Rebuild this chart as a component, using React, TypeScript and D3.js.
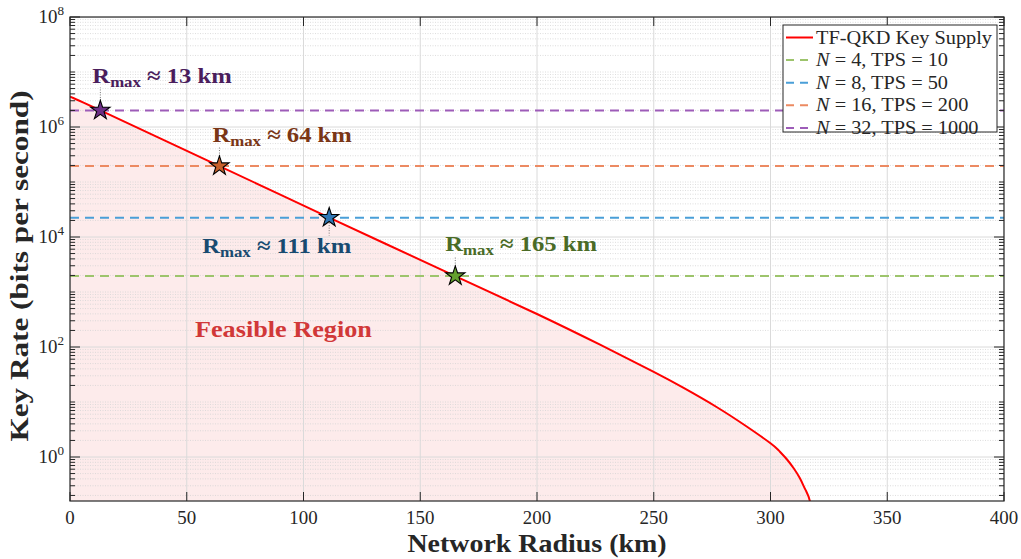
import * as d3 from 'd3';
import { useEffect, useRef } from 'react';

// TF-QKD key supply curve (km, bits per second)
const supplyKm = [0, 13, 64, 111, 165, 200, 227, 250, 262.6, 276.9, 289.8, 300, 303.5, 306.9, 310, 312.6, 315, 316.9, 318];
const supplyRate = [3.55e6, 2.0e6, 1.95e5, 2.25e4, 1.95e3, 398, 110, 35.2, 18.2, 8.11, 3.58, 1.78, 1.32, 0.92, 0.617, 0.41, 0.252, 0.156, 0.063];

// demand levels
const demandLabels = ['N = 4, TPS = 10', 'N = 8, TPS = 50', 'N = 16, TPS = 200', 'N = 32, TPS = 1000'];
const demandN = ['4', '8', '16', '32'];
const demandTps = ['10', '50', '200', '1000'];
const demandRate = [1.95e3, 2.25e4, 1.95e5, 2.0e6];
const demandColors = ['#9dc46c', '#4a9fd8', '#ec8a62', '#9d5cb8'];

// crossing points
const rmaxKm = [165, 111, 64, 13];
const rmaxLabels = ['165', '111', '64', '13'];
const starFill = ['#64a02e', '#2f77b5', '#c8602b', '#6d2f86'];
const textFill = ['#4a6b26', '#184a70', '#7a3616', '#4a1d5c'];

const xTicks = [0, 50, 100, 150, 200, 250, 300, 350, 400];
const yTickExp = [0, 2, 4, 6, 8];

const W = 1021;
const H = 559;
const left = 70;
const right = 1004;
const top = 17;
const bottom = 501;
const FONT = '"Liberation Serif", "DejaVu Serif", serif';
const INK = '#262626';

// text stretched sideways a little, to get closer to the wide LaTeX font
const addText = (parent, x, y, sx, anchor, size, bold) =>
  parent
    .append('text')
    .attr('transform', `translate(${x},${y}) scale(${sx},1)`)
    .attr('text-anchor', anchor)
    .attr('font-family', FONT)
    .attr('font-size', size)
    .attr('font-weight', bold ? 'bold' : 'normal');

export default function App() {
  const svgRef = useRef(null);

  useEffect(() => {
    const svgEl = d3.select(svgRef.current);
    svgEl.selectAll('*').remove();

    const x = d3.scaleLinear().domain([0, 400]).range([left, right]);
    const y = d3.scaleLog().domain([Math.pow(10, -0.8), 1e8]).range([bottom, top]);

    svgEl.append('rect').attr('width', W).attr('height', H).attr('fill', '#fff');

    svgEl
      .append('defs')
      .append('clipPath')
      .attr('id', 'plotclip')
      .append('rect')
      .attr('x', left)
      .attr('y', top)
      .attr('width', right - left)
      .attr('height', bottom - top);

    const pts = supplyKm.map((k, i) => ({ k, r: supplyRate[i] }));

    const plot = svgEl.append('g').attr('clip-path', 'url(#plotclip)');

    // feasible region
    const area = d3
      .area()
      .x((d) => x(d.k))
      .y0(bottom)
      .y1((d) => y(d.r))
      .curve(d3.curveNatural);
    plot.append('path').attr('d', area(pts)).attr('fill', '#fde8e8').attr('fill-opacity', 0.85);

    // minor y grid
    const minors = [];
    for (let e = -1; e < 8; e++) {
      for (let m = 1; m <= 9; m++) {
        const v = m * Math.pow(10, e);
        if (m === 1 && e % 2 === 0) continue;
        if (v >= y.domain()[0] && v <= 1e8) minors.push(v);
      }
    }
    plot
      .selectAll('.minor')
      .data(minors)
      .enter()
      .append('line')
      .attr('x1', left)
      .attr('x2', right)
      .attr('y1', (d) => y(d))
      .attr('y2', (d) => y(d))
      .attr('stroke', '#d4d4d4')
      .attr('stroke-width', 0.8)
      .attr('stroke-dasharray', '1,1.5');

    // major grid
    plot
      .selectAll('.gx')
      .data(xTicks)
      .enter()
      .append('line')
      .attr('x1', (d) => x(d))
      .attr('x2', (d) => x(d))
      .attr('y1', top)
      .attr('y2', bottom)
      .attr('stroke', '#dadada')
      .attr('stroke-width', 1);
    plot
      .selectAll('.gy')
      .data(yTickExp)
      .enter()
      .append('line')
      .attr('x1', left)
      .attr('x2', right)
      .attr('y1', (d) => y(Math.pow(10, d)))
      .attr('y2', (d) => y(Math.pow(10, d)))
      .attr('stroke', '#dadada')
      .attr('stroke-width', 1);

    // demand lines
    plot
      .selectAll('.demand')
      .data(demandRate)
      .enter()
      .append('line')
      .attr('x1', left)
      .attr('x2', right)
      .attr('y1', (d) => y(d))
      .attr('y2', (d) => y(d))
      .attr('stroke', (d, i) => demandColors[i])
      .attr('stroke-width', 2)
      .attr('stroke-dasharray', '9,6');

    // supply curve
    const curve = d3
      .line()
      .x((d) => x(d.k))
      .y((d) => y(d.r))
      .curve(d3.curveNatural);
    plot
      .append('path')
      .attr('d', curve(pts))
      .attr('fill', 'none')
      .attr('stroke', '#ff0000')
      .attr('stroke-width', 2);

    // Feasible Region label
    addText(svgEl, x(53.5), y(Math.pow(10, 2.18)), 1.14, 'start', 23, true)
      .attr('fill', '#d13838')
      .text('Feasible Region');

    // axes box and ticks
    const axes = svgEl.append('g').attr('stroke', INK);
    axes
      .append('rect')
      .attr('x', left)
      .attr('y', top)
      .attr('width', right - left)
      .attr('height', bottom - top)
      .attr('fill', 'none')
      .attr('stroke-width', 1.2);

    xTicks.forEach((t) => {
      axes.append('line').attr('x1', x(t)).attr('x2', x(t)).attr('y1', bottom).attr('y2', bottom - 9);
      axes.append('line').attr('x1', x(t)).attr('x2', x(t)).attr('y1', top).attr('y2', top + 9);
    });
    yTickExp.forEach((e) => {
      const yy = y(Math.pow(10, e));
      axes.append('line').attr('x1', left).attr('x2', left + 10).attr('y1', yy).attr('y2', yy);
      axes.append('line').attr('x1', right).attr('x2', right - 10).attr('y1', yy).attr('y2', yy);
    });
    minors.forEach((v) => {
      const yy = y(v);
      axes.append('line').attr('x1', left).attr('x2', left + 5).attr('y1', yy).attr('y2', yy);
      axes.append('line').attr('x1', right).attr('x2', right - 5).attr('y1', yy).attr('y2', yy);
    });

    // tick labels
    xTicks.forEach((t) => {
      addText(svgEl, x(t), bottom + 23, 1.05, 'middle', 18, false).attr('fill', INK).text(t);
    });
    yTickExp.forEach((e) => {
      const t = addText(svgEl, 64, y(Math.pow(10, e)) + 6, 1.05, 'end', 18, false).attr('fill', INK);
      t.append('tspan').text('10');
      t.append('tspan').attr('dy', -8).attr('font-size', 12.5).text(e);
    });

    // axis titles
    addText(svgEl, (left + right) / 2, 552, 1.075, 'middle', 26, true)
      .attr('fill', INK)
      .text('Network Radius (km)');
    svgEl
      .append('g')
      .attr('transform', `translate(28, 266) rotate(-90)`)
      .call((g) =>
        addText(g, 0, 0, 1.2, 'middle', 26, true)
          .attr('fill', INK)
          .text('Key Rate (bits per second)'),
      );

    // stars and annotations
    const offsets = [
      { dx: -10, dy: -25, lead: -19 },
      { dx: -127, dy: 35, lead: 18 },
      { dx: -7, dy: -24, lead: -20 },
      { dx: -8, dy: -27, lead: -23 },
    ];
    rmaxKm.forEach((k, i) => {
      const sx = x(k);
      const sy = y(demandRate[i]);
      const o = offsets[i];
      svgEl
        .append('line')
        .attr('x1', sx)
        .attr('x2', sx)
        .attr('y1', sy)
        .attr('y2', sy + o.lead)
        .attr('stroke', '#777')
        .attr('stroke-width', 1)
        .attr('stroke-dasharray', '1,1.5');
      svgEl
        .append('path')
        .attr('d', d3.symbol(d3.symbolStar, 115)())
        .attr('transform', `translate(${sx},${sy})`)
        .attr('fill', starFill[i])
        .attr('stroke', '#000')
        .attr('stroke-width', 1.1);
      const t = addText(svgEl, sx + o.dx, sy + o.dy, 1.12, 'start', 22, true).attr('fill', textFill[i]);
      t.append('tspan').text('R');
      t.append('tspan').attr('dy', 4).attr('font-size', 15).text('max');
      t.append('tspan').attr('dy', -4).text(` \u2248 ${rmaxLabels[i]} km`);
    });

    // legend
    const lg = svgEl.append('g');
    lg.append('rect')
      .attr('x', 783)
      .attr('y', 25)
      .attr('width', 214)
      .attr('height', 107)
      .attr('fill', '#fff')
      .attr('stroke', INK)
      .attr('stroke-width', 1);
    const rowY = (i) => 37.5 + i * 22.6;
    lg.append('line').attr('x1', 786).attr('x2', 813).attr('y1', rowY(0)).attr('y2', rowY(0)).attr('stroke', '#ff0000').attr('stroke-width', 2);
    addText(lg, 816, rowY(0) + 6, 1.07, 'start', 19, false).attr('fill', INK).text('TF-QKD Key Supply');
    demandLabels.forEach((lab, j) => {
      const i = j + 1;
      lg.append('line')
        .attr('x1', 786)
        .attr('x2', 813)
        .attr('y1', rowY(i))
        .attr('y2', rowY(i))
        .attr('stroke', demandColors[j])
        .attr('stroke-width', 2)
        .attr('stroke-dasharray', '8,6');
      const t = addText(lg, 816, rowY(i) + 6, 1.07, 'start', 19, false).attr('fill', INK).attr('aria-label', lab);
      t.append('tspan').attr('font-style', 'italic').text('N');
      t.append('tspan').text(` = ${demandN[j]}, TPS = ${demandTps[j]}`);
    });
  }, []);

  return <svg ref={svgRef} width={W} height={H} style={{ position: 'absolute', left: 0, top: 0 }} />;
}
